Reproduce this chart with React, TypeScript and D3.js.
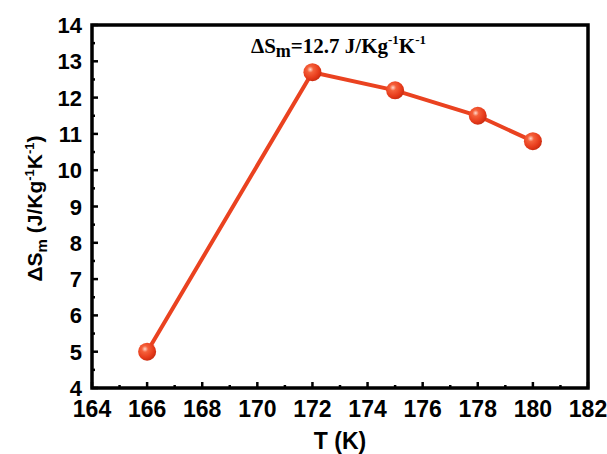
import React from "react";
import * as d3 from "d3";

const temps = [166, 172, 175, 178, 180];
const deltaS = [5.0, 12.7, 12.2, 11.5, 10.8];
const xTicks = [164, 166, 168, 170, 172, 174, 176, 178, 180, 182];
const yTicks = [4, 5, 6, 7, 8, 9, 10, 11, 12, 13, 14];

export default function App() {
  const W = 607, H = 454;
  const L = 92, R = 588, T = 25, B = 388;
  const x = d3.scaleLinear().domain([164, 182]).range([L, R]);
  const y = d3.scaleLinear().domain([4, 14]).range([B, T]);
  const line = d3.line<number>().x((_, i) => x(temps[i])).y((d) => y(d));
  const xMinor = d3.range(165, 182, 2);
  const yMinor = d3.range(4.5, 14, 1);
  const lineColor = "#ea4220";
  const font = "'Liberation Sans', Arial, sans-serif";
  return (
    <svg width={W} height={H} style={{ position: "absolute", left: 0, top: 0 }}>
      <defs>
        <radialGradient id="ball" cx="0.38" cy="0.35" r="0.7">
          <stop offset="0" stopColor="#ffd9cc" />
          <stop offset="0.25" stopColor="#f5603a" />
          <stop offset="0.7" stopColor="#e63a1a" />
          <stop offset="1" stopColor="#c42a10" />
        </radialGradient>
      </defs>
      <rect x={0} y={0} width={W} height={H} fill="#fff" />
      {xTicks.map((t) => (
        <line key={"xt" + t} x1={x(t)} x2={x(t)} y1={B} y2={B - 6} stroke="#000" strokeWidth={2.5} />
      ))}
      {xMinor.map((t) => (
        <line key={"xm" + t} x1={x(t)} x2={x(t)} y1={B} y2={B - 3} stroke="#000" strokeWidth={2.5} />
      ))}
      {yTicks.map((t) => (
        <line key={"yt" + t} x1={L} x2={L + 6} y1={y(t)} y2={y(t)} stroke="#000" strokeWidth={2.5} />
      ))}
      {yMinor.map((t) => (
        <line key={"ym" + t} x1={L} x2={L + 3} y1={y(t)} y2={y(t)} stroke="#000" strokeWidth={2.5} />
      ))}
      <rect x={L} y={T} width={R - L} height={B - T} fill="none" stroke="#000" strokeWidth={3.5} />
      {xTicks.map((t) => (
        <text key={"xl" + t} x={x(t)} y={417} textAnchor="middle" fontFamily={font} fontWeight="bold" fontSize={23}>
          {t}
        </text>
      ))}
      {yTicks.map((t) => (
        <text key={"yl" + t} x={L - 10} y={y(t) + 8} textAnchor="end" fontFamily={font} fontWeight="bold" fontSize={22}>
          {t}
        </text>
      ))}
      <text x={(L + R) / 2} y={449} textAnchor="middle" fontFamily={font} fontWeight="bold" fontSize={23}>
        T (K)
      </text>
      <text transform={`translate(42,${(T + B) / 2 + 2}) rotate(-90)`} textAnchor="middle" fontFamily={font} fontWeight="bold" fontSize={21}>
        ΔS<tspan fontSize={15} dy={5}>m</tspan>
        <tspan dy={-5}> (J/Kg</tspan>
        <tspan fontSize={13} dy={-8}>-1</tspan>
        <tspan dy={8}>K</tspan>
        <tspan fontSize={13} dy={-8}>-1</tspan>
        <tspan dy={8}>)</tspan>
      </text>
      <text x={251} y={53} fontFamily="'Liberation Serif', 'Times New Roman', serif" fontWeight="bold" fontSize={21}>
        ΔS<tspan fontSize={18} dy={4}>m</tspan>
        <tspan dy={-4}>=12.7 J/Kg</tspan>
        <tspan fontSize={13} dy={-9}>-1</tspan>
        <tspan dy={9}>K</tspan>
        <tspan fontSize={13} dy={-9}>-1</tspan>
      </text>
      <path d={line(deltaS) || ""} fill="none" stroke={lineColor} strokeWidth={4} />
      {deltaS.map((v, i) => (
        <circle key={"p" + i} cx={x(temps[i])} cy={y(v)} r={9} fill="url(#ball)" />
      ))}
    </svg>
  );
}
